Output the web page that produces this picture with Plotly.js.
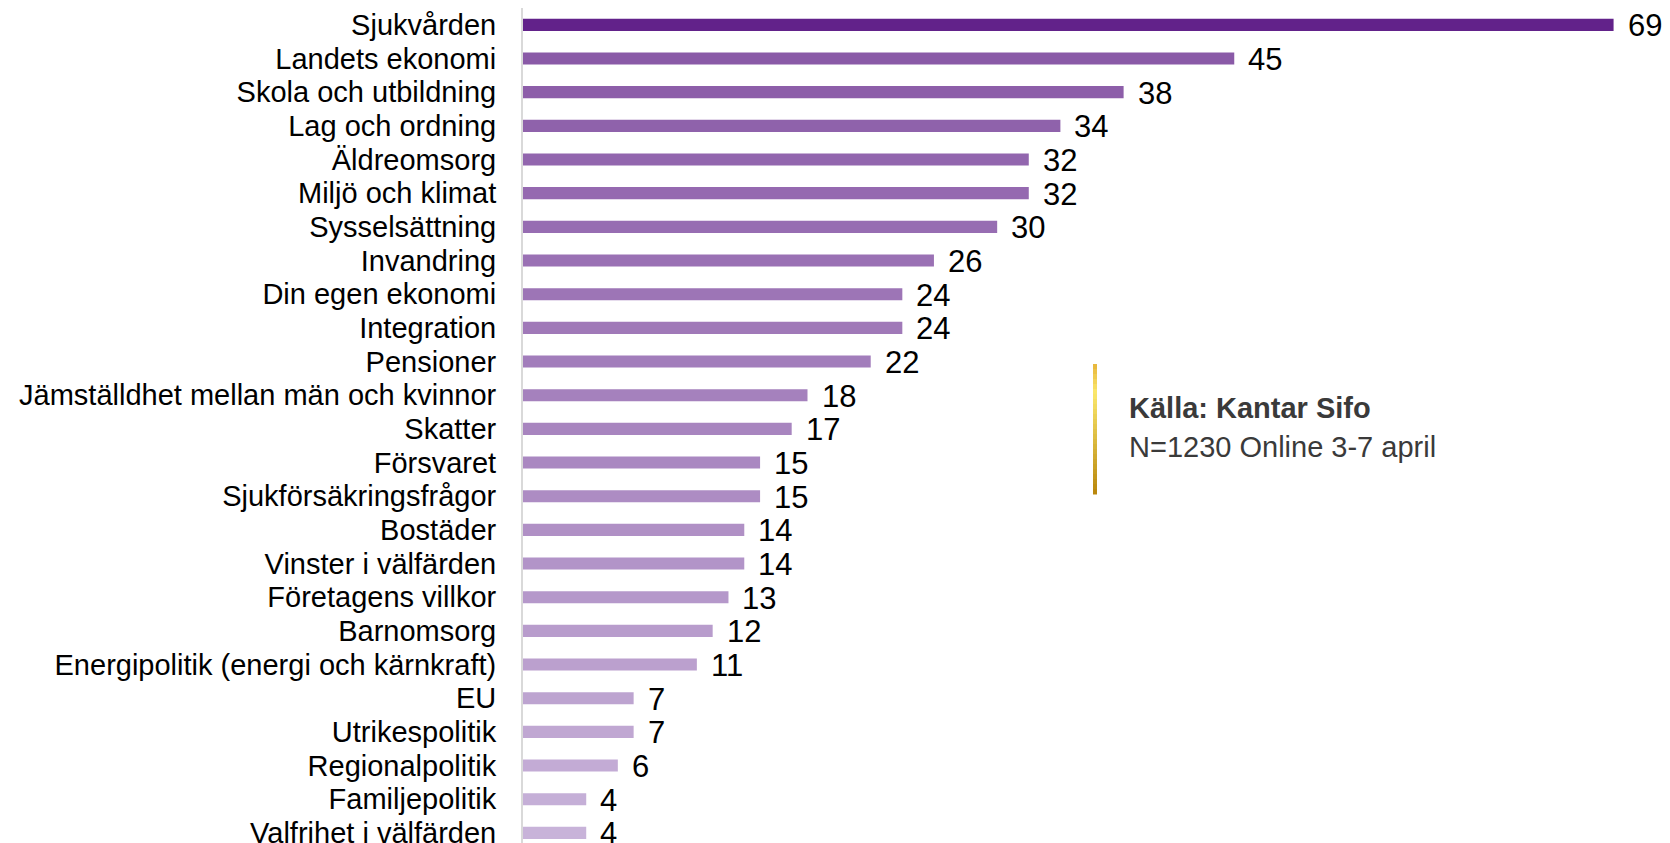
<!DOCTYPE html>
<html>
<head>
<meta charset="utf-8">
<script src="https://cdn.plot.ly/plotly-3.0.1.min.js"></script>
<style>html,body{margin:0;padding:0;background:#fff;}#chart{width:1670px;height:843px;}</style>
</head>
<body>
<div id="chart"></div>
<script>
const categories = [
  "Sjukvården", "Landets ekonomi", "Skola och utbildning", "Lag och ordning",
  "Äldreomsorg", "Miljö och klimat", "Sysselsättning", "Invandring",
  "Din egen ekonomi", "Integration", "Pensioner",
  "Jämställdhet mellan män och kvinnor", "Skatter", "Försvaret",
  "Sjukförsäkringsfrågor", "Bostäder", "Vinster i välfärden",
  "Företagens villkor", "Barnomsorg", "Energipolitik (energi och kärnkraft)",
  "EU", "Utrikespolitik", "Regionalpolitik", "Familjepolitik",
  "Valfrihet i välfärden"
];
const values = [69, 45, 38, 34, 32, 32, 30, 26, 24, 24, 22, 18, 17, 15, 15, 14, 14, 13, 12, 11, 7, 7, 6, 4, 4];
const sourceTitle = "Källa: Kantar Sifo";
const sourceNote = "N=1230 Online 3-7 april";

function hex(c){return [parseInt(c.slice(1,3),16),parseInt(c.slice(3,5),16),parseInt(c.slice(5,7),16)];}
function mix(a,b,t){const A=hex(a),B=hex(b);return 'rgb('+A.map((v,i)=>Math.round(v+(B[i]-v)*t)).join(',')+')';}

const n = categories.length;
const colors = categories.map((c,i)=> i===0 ? '#62228A' : mix('#8A5AA7','#C8B3D9',(i-1)/(n-2)));

const FONT = 'Liberation Sans, Arial, sans-serif';

const trace = {
  type: 'bar', orientation: 'h',
  x: values, y: categories,
  marker: {color: colors},
  hoverinfo: 'none'
};

const annotations = values.map((v,i)=>({
  x: v, y: categories[i], xref: 'x', yref: 'y',
  text: String(v), showarrow: false, xanchor: 'left', yanchor: 'middle',
  xshift: 12, yshift: -1,
  font: {family: FONT, size: 31, color: '#000'}
}));

// source text
annotations.push({
  xref: 'paper', yref: 'paper', x: (1127 - 523) / 1138, y: 1 - (408 - 8) / 835,
  text: '<b>' + sourceTitle + '</b>', showarrow: false, xanchor: 'left', yanchor: 'middle',
  font: {family: FONT, size: 29, color: '#3a3a3a'}
});
annotations.push({
  xref: 'paper', yref: 'paper', x: (1127 - 523) / 1138, y: 1 - (447 - 8) / 835,
  text: sourceNote, showarrow: false, xanchor: 'left', yanchor: 'middle',
  font: {family: FONT, size: 29, color: '#3a3a3a'}
});

// gold gradient bar
const shapes = [];
const segs = 26;
const y0 = 364, y1 = 494;
for (let k = 0; k < segs; k++) {
  const t = (k + 0.5) / segs;
  let col;
  if (t < 0.22) col = mix('#E6B43A', '#FBE86C', t / 0.22);
  else col = mix('#FBE86C', '#B8860B', (t - 0.22) / 0.78);
  const ya = y0 + (y1 - y0) * k / segs, yb = y0 + (y1 - y0) * (k + 1) / segs + 0.5;
  shapes.push({
    type: 'rect', xref: 'paper', yref: 'paper',
    x0: (1093 - 523) / 1138, x1: (1097 - 523) / 1138,
    y0: 1 - (yb - 8) / 835, y1: 1 - (ya - 8) / 835,
    fillcolor: col, line: {width: 0}, layer: 'above'
  });
}

const layout = {
  width: 1670, height: 843,
  margin: {l: 523, r: 9, t: 8, b: 0},
  paper_bgcolor: '#fff', plot_bgcolor: '#fff',
  showlegend: false,
  bargap: 0.64,
  xaxis: {range: [0, 72], showgrid: false, zeroline: false, showticklabels: false, showline: false, fixedrange: true},
  yaxis: {
    type: 'category', range: [24.3, -0.5],
    tickmode: 'array', tickvals: categories, ticktext: categories,
    showgrid: false, zeroline: false, showline: true, linecolor: '#d9d9d9', linewidth: 2,
    ticks: '', ticklabelstandoff: 19,
    tickfont: {family: FONT, size: 29, color: '#000'}
  },
  annotations: annotations,
  shapes: shapes
};

Plotly.newPlot('chart', [trace], layout, {displayModeBar: false, staticPlot: true});
</script>
</body>
</html>
